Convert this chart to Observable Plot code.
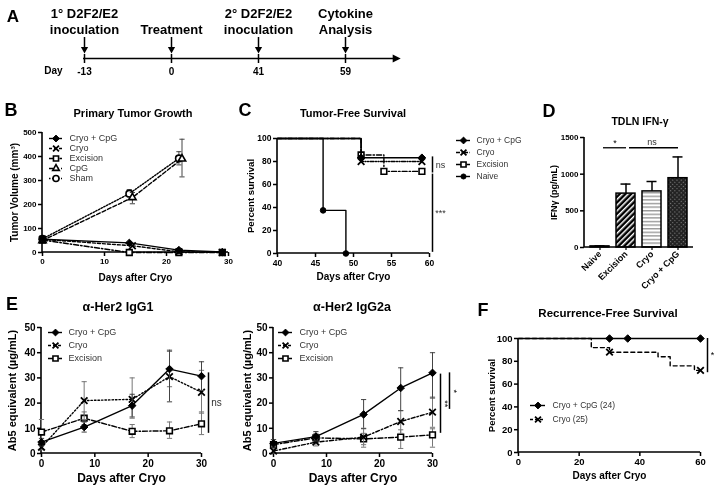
<!DOCTYPE html>
<html><head><meta charset="utf-8">
<script src="https://cdn.jsdelivr.net/npm/d3@7"></script>
<script src="https://cdn.jsdelivr.net/npm/@observablehq/plot@0.6"></script>
<style>
body{margin:0;background:#fff;}
#fig{position:relative;width:718px;height:487px;overflow:hidden;background:#fff;font-family:"Liberation Sans",Arial,Helvetica,sans-serif;filter:grayscale(1);}
.lbl{position:absolute;font-weight:bold;white-space:nowrap;color:#000;transform:translate(-50%,-50%);line-height:1;}
</style></head><body>
<svg width="0" height="0" style="position:absolute">
<defs>
<pattern id="patDiag" patternUnits="userSpaceOnUse" width="4" height="4" patternTransform="rotate(45)">
<rect width="4" height="4" fill="#000"/><rect width="1.5" height="4" fill="#fff"/>
</pattern>
<pattern id="patHoriz" patternUnits="userSpaceOnUse" width="4" height="3.6">
<rect width="4" height="3.6" fill="#fff"/><rect width="4" height="1.4" fill="#9a9a9a"/>
</pattern>
<pattern id="patCross" patternUnits="userSpaceOnUse" width="3" height="3" patternTransform="rotate(45)">
<rect width="3" height="3" fill="#222"/><rect width="1.1" height="1.1" fill="#808080"/>
</pattern>
</defs></svg>
<div id="fig"></div>
<script>
// ---------- DATA ----------
// Panel A: timeline
const timelineDays = [-13, 0, 41, 59];
const timelineEvents = ["1° D2F2/E2\ninoculation", "Treatment", "2° D2F2/E2\ninoculation", "Cytokine\nAnalysis"];

// Panel B: primary tumor growth (mm^3)
const bSeries = ["Cryo + CpG", "Cryo", "Excision", "CpG", "Sham"];
const bCryoCpGDays = [0, 14, 22, 29];
const bCryoCpGVol = [55, 40, 10, 2];
const bCryoDays = [0, 14.5, 22, 29];
const bCryoVol = [55, 28, 3, 0];
const bExcisionDays = [0, 14, 22, 29];
const bExcisionVol = [52, 0, 0, 0];
const bCpGDays = [0, 14.5, 22.5];
const bCpGVol = [50, 229, 390];
const bCpGLo = [45, 203, 315];
const bCpGHi = [55, 250, 472];
const bShamDays = [0, 14, 22];
const bShamVol = [57, 245, 392];
const bShamLo = [52, 232, 365];
const bShamHi = [62, 262, 420];

// Panel C: tumor-free survival (%)
const cSeries = ["Cryo + CpG", "Cryo", "Excision", "Naive"];
const cCryoCpGDays = [40, 51, 59];
const cCryoCpGSurv = [100, 83.3, 83.3];
const cCryoDays = [40, 51, 59];
const cCryoSurv = [100, 80, 80];
const cExcisionDays = [40, 51, 54, 59];
const cExcisionSurv = [100, 85.7, 71.4, 71.4];
const cNaiveDays = [40, 46, 49];
const cNaiveSurv = [100, 37.5, 0];
const cSig = [{x: 60, y1: 84, y2: 70, label: "ns"}, {x: 60, y1: 69, y2: 1, label: "***"}];

// Panel D: TDLN IFN-gamma (pg/mL)
const dGroups = ["Naive", "Excision", "Cryo", "Cryo + CpG"];
const dMeans = [15, 735, 765, 945];
const dErrHi = [22, 865, 900, 1235];
const dSig = [{from: "Naive", to: "Excision", y: 1360, label: "*"}, {from: "Excision", to: "Cryo + CpG", y: 1360, label: "ns"}];

// Panel E: anti-Her2 antibodies (ug/mL)
const eSeries = ["Cryo + CpG", "Cryo", "Excision"];
const eDays = [0, 8, 17, 24, 30];
const e1CryoCpG = [4.5, 10.5, 19, 33.5, 30.7];
const e1CryoCpGLo = [3, 8.5, 14.5, 20.5, 25];
const e1CryoCpGHi = [6, 12.5, 23.5, 41, 36.4];
const e1Cryo = [2.5, 21, 21.5, 30.5, 24.3];
const e1CryoLo = [1.5, 13.5, 14, 26.5, 16];
const e1CryoHi = [3.5, 28.5, 30, 40.5, 33];
const e1Excision = [8.5, 14, 8.8, 9, 11.8];
const e1ExcisionLo = [3.5, 11.5, 6.3, 6, 7.5];
const e1ExcisionHi = [13.5, 16.5, 11.5, 12.5, 16.5];
const e1Sig = [{x: 30, y1: 32, y2: 8, label: "ns"}];
const e2CryoCpG = [4, 6.7, 15.5, 26, 32];
const e2CryoCpGLo = [2.5, 5, 10, 17, 22];
const e2CryoCpGHi = [5.5, 8.7, 21.4, 34, 40];
const e2Cryo = [1, 4.5, 6.5, 12.7, 16.4];
const e2CryoLo = [0.2, 3, 2.5, 8, 10.4];
const e2CryoHi = [1.8, 6, 9.8, 17, 22.4];
const e2Excision = [3.5, 6.2, 5.8, 6.5, 7.4];
const e2ExcisionLo = [2, 4.5, 3.5, 2, 2.5];
const e2ExcisionHi = [5.5, 8, 8, 9.4, 9.8];
const e2Sig = [{x: 30, y1: 31.5, y2: 8, label: "**"}, {x: 30, y1: 32, y2: 17.5, label: "*"}];

// Panel F: recurrence-free survival (%)
const fLabels = ["Cryo + CpG (24)", "Cryo (25)"];
const fCryoCpGDays = [0, 30, 36, 60];
const fCryoCpGSurv = [100, 100, 100, 100];
const fCryoCpGMarks = [30, 36, 60];
const fCryoDays = [0, 24, 30, 46, 50, 58, 60];
const fCryoSurv = [100, 92, 88, 84, 76, 72, 72];
const fCryoMarks = [30, 60];
const fSig = [{x: 60, y1: 100, y2: 70, label: "*"}];

// ---------- STYLE ----------
const FONT = '"Liberation Sans", Arial, Helvetica, sans-serif';
const fig = document.getElementById("fig");
const cap = {draw(ctx, size) { const w = Math.sqrt(size / Math.PI); ctx.moveTo(-w, 0); ctx.lineTo(w, 0); }};
const downTri = {draw(ctx, size) { const s = Math.sqrt(size / Math.PI); ctx.moveTo(-s, -s * 0.7); ctx.lineTo(s, -s * 0.7); ctx.lineTo(0, s * 1.1); ctx.closePath(); }};
const rightTri = {draw(ctx, size) { const s = Math.sqrt(size / Math.PI); ctx.moveTo(-s * 0.7, -s); ctx.lineTo(-s * 0.7, s); ctx.lineTo(s * 1.3, 0); ctx.closePath(); }};
const STY = {
  "Cryo + CpG": {symbol: "diamond2", r: 3.4, fill: "#000", sw: 1, dash: null},
  "Cryo": {symbol: "times", r: 3.1, fill: "none", sw: 1.8, dash: "3,2"},
  "Excision": {symbol: "square", r: 3.2, fill: "#fff", sw: 1.6, dash: "5,2,1.5,2"},
  "CpG": {symbol: "triangle2", r: 3.5, fill: "#fff", sw: 1.6, dash: "4,2"},
  "Sham": {symbol: "circle", r: 3.3, fill: "#fff", sw: 1.6, dash: "1.5,1.5"},
  "Naive": {symbol: "circle", r: 2.8, fill: "#000", sw: 1, dash: null}
};
const baseStyle = (fs) => ({fontFamily: FONT, fontSize: fs + "px", fontWeight: "bold", color: "#000", background: "transparent", overflow: "visible"});

function place(svg, left, top) {
  svg.style.position = "absolute"; svg.style.left = left + "px"; svg.style.top = top + "px";
  svg.style.maxWidth = "none";
  fig.appendChild(svg);
}
function htmlText(str, cx, cy, size, weight = "bold") {
  const d = document.createElement("div");
  d.className = "lbl"; d.textContent = str;
  d.style.left = cx + "px"; d.style.top = cy + "px"; d.style.fontSize = size + "px"; d.style.fontWeight = weight;
  fig.appendChild(d);
}
function axisLines(index, scales, values, dims) {
  const {width, height, marginLeft, marginRight, marginTop, marginBottom} = dims;
  const p = document.createElementNS("http://www.w3.org/2000/svg", "path");
  p.setAttribute("d", `M${marginLeft},${marginTop}V${height - marginBottom}H${width - marginRight}`);
  p.setAttribute("fill", "none"); p.setAttribute("stroke", "#000"); p.setAttribute("stroke-width", "1.6");
  return p;
}
const axY = (ticks, fs, o = {}) => Plot.axisY({ticks, tickSize: 4, tickPadding: 2, strokeWidth: 1.5, fontSize: fs, tickFormat: d => String(d), label: null, ...o});
const axX = (ticks, fs, o = {}) => Plot.axisX({ticks, tickSize: 4, tickPadding: 2, strokeWidth: 1.5, fontSize: fs, tickFormat: d => String(d), label: null, ...o});
const xLabel = (t, dy, fs) => Plot.text([t], {text: d => d, frameAnchor: "bottom", textAnchor: "middle", dy, fontSize: fs, lineAnchor: "middle", fill: "black"});
const yLabel = (t, dx, fs) => Plot.text([t], {text: d => d, frameAnchor: "left", textAnchor: "middle", dx, rotate: -90, fontSize: fs, lineAnchor: "middle", fill: "black"});
const sigText = (data, dx, fs, o = {}) => Plot.text(data, {x: "x", y: d => (d.y1 + d.y2) / 2, text: d => d.label, dx, fontSize: fs, fontWeight: "normal", fill: "black", ...o});

function seriesMarks(days, vals, o) {
  const rows = days.map((x, i) => ({x, y: vals[i], lo: o.lo ? o.lo[i] : null, hi: o.hi ? o.hi[i] : null}));
  const st = STY[o.name];
  const m = [];
  if (o.lo) {
    const ec = o.errColor || "#555";
    m.push(Plot.ruleX(rows, {x: "x", y1: "lo", y2: "hi", stroke: ec, strokeWidth: 1}));
    m.push(Plot.dot(rows, {x: "x", y: "lo", symbol: cap, r: 2.6, stroke: ec, fill: "none", strokeWidth: 1}));
    m.push(Plot.dot(rows, {x: "x", y: "hi", symbol: cap, r: 2.6, stroke: ec, fill: "none", strokeWidth: 1}));
  }
  m.push(Plot.line(rows, {x: "x", y: "y", curve: o.curve || "linear", stroke: "#000", strokeWidth: 1.4, strokeDasharray: o.dash !== undefined ? o.dash : st.dash}));
  const mk = o.markDays ? rows.filter(r => o.markDays.includes(r.x)) : rows;
  m.push(Plot.dot(mk, {x: "x", y: "y", symbol: st.symbol, r: st.r, fill: st.fill, stroke: "#000", strokeWidth: st.sw}));
  return m;
}
function legendPlot(keys, labels, o) {
  const n = keys.length;
  const marks = [];
  keys.forEach((k, i) => {
    const st = STY[k];
    const dash = o.dash && o.dash[k] !== undefined ? o.dash[k] : st.dash;
    marks.push(Plot.ruleY([labels[i]], {y: d => d, x1: 0, x2: 1, stroke: "#000", strokeWidth: 1.4, strokeDasharray: dash}));
    marks.push(Plot.dot([labels[i]], {x: 0.5, y: d => d, symbol: st.symbol, r: st.r * 0.9, fill: st.fill, stroke: "#000", strokeWidth: st.sw}));
  });
  marks.push(Plot.text(labels, {x: 1, y: d => d, text: d => d, textAnchor: "start", dx: o.gap, fontSize: o.fs, fontWeight: "normal", fill: "#333"}));
  const svg = Plot.plot({
    width: o.width, height: n * o.rowH, margin: 0,
    x: {domain: [0, 1], range: [0, o.lineW], axis: null},
    y: {type: "point", domain: labels, range: [o.rowH / 2, o.rowH * (n - 0.5)], padding: 0, axis: null},
    style: baseStyle(o.fs), marks
  });
  place(svg, o.left, o.top);
}
function panel(p) {
  const svg = Plot.plot({
    width: p.width, height: p.height,
    marginLeft: p.ml, marginRight: p.mr, marginTop: p.mt, marginBottom: p.mb,
    x: p.x, y: p.y, color: p.color,
    style: baseStyle(p.fs), marks: p.marks
  });
  place(svg, p.left, p.top);
}

// ---------- PANEL A ----------
const aRows = timelineDays.map((day, i) => ({day, label: timelineEvents[i]}));
panel({
  left: 0, top: 0, width: 420, height: 90, ml: 83, mr: 25, mt: 37, mb: 32, fs: 10,
  x: {type: "point", domain: timelineDays, range: [83, 346], padding: 0},
  y: {domain: [0, 1], axis: null},
  marks: [
    Plot.ruleY([0], {strokeWidth: 1.5, stroke: "#000"}),
    Plot.dot([0], {y: d => d, frameAnchor: "right", symbol: rightTri, r: 4, fill: "#000", stroke: "none"}),
    Plot.ruleX(aRows, {x: "day", insetBottom: 11, strokeWidth: 1.5, stroke: "#000"}),
    Plot.dot(aRows, {x: "day", frameAnchor: "bottom", dy: -9, symbol: downTri, r: 3.6, fill: "#000", stroke: "none"}),
    Plot.ruleX(aRows, {x: "day", insetTop: 17, strokeWidth: 1.5, stroke: "#000"}),
    Plot.axisX({ticks: timelineDays, tickSize: 5, tickPadding: 4, strokeWidth: 1.5, fontSize: 10, tickFormat: d => String(d), label: null}),
    Plot.text(aRows, {x: "day", text: "label", frameAnchor: "top", lineAnchor: "bottom", dy: -4, fontSize: 13, lineHeight: 1.22, fill: "black"}),
    Plot.text(["Day"], {text: d => d, frameAnchor: "bottom-left", textAnchor: "middle", dx: -30, dy: 15, fontSize: 10, fill: "black"})
  ]
});
htmlText("A", 13, 16, 17);

// ---------- PANEL B ----------
panel({
  left: 0, top: 120, width: 240, height: 170, ml: 42, mr: 12, mt: 12, mb: 38, fs: 8,
  x: {domain: [0, 30]}, y: {domain: [0, 500]},
  marks: [
    axisLines,
    axY([0, 100, 200, 300, 400, 500], 8), axX([0, 10, 20, 30], 8),
    yLabel("Tumor Volume (mm³)", -28, 10), xLabel("Days after Cryo", 25, 10),
    ...seriesMarks(bShamDays, bShamVol, {name: "Sham", lo: bShamLo, hi: bShamHi, errColor: "#444"}),
    ...seriesMarks(bCpGDays, bCpGVol, {name: "CpG", lo: bCpGLo, hi: bCpGHi, errColor: "#444"}),
    ...seriesMarks(bExcisionDays, bExcisionVol, {name: "Excision"}),
    ...seriesMarks(bCryoDays, bCryoVol, {name: "Cryo"}),
    ...seriesMarks(bCryoCpGDays, bCryoCpGVol, {name: "Cryo + CpG"})
  ]
});
legendPlot(bSeries, bSeries, {left: 49, top: 132, rowH: 10.5, lineW: 13, gap: 7, fs: 9, width: 110});
htmlText("B", 11, 110, 18);
htmlText("Primary Tumor Growth", 133, 113, 11);

// ---------- PANEL C ----------
panel({
  left: 230, top: 125, width: 230, height: 165, ml: 47, mr: 31, mt: 13, mb: 37, fs: 8.5,
  x: {domain: [40, 60]}, y: {domain: [0, 100]},
  marks: [
    axisLines,
    axY([0, 20, 40, 60, 80, 100], 8.5), axX([40, 45, 50, 55, 60], 8.5),
    yLabel("Percent survival", -27, 9.6), xLabel("Days after Cryo", 23, 10),
    ...seriesMarks(cNaiveDays, cNaiveSurv, {name: "Naive", curve: "step-after", markDays: cNaiveDays.slice(1)}),
    ...seriesMarks(cExcisionDays, cExcisionSurv, {name: "Excision", curve: "step-after", markDays: cExcisionDays.slice(1)}),
    ...seriesMarks(cCryoDays, cCryoSurv, {name: "Cryo", curve: "step-after", dash: "4,1.5,1,1.5,1,1.5", markDays: cCryoDays.slice(1)}),
    ...seriesMarks(cCryoCpGDays, cCryoCpGSurv, {name: "Cryo + CpG", curve: "step-after", markDays: cCryoCpGDays.slice(1)}),
    Plot.ruleX(cSig, {x: "x", y1: "y1", y2: "y2", dx: 3, strokeWidth: 1.5, stroke: "#000"}),
    sigText(cSig, 11, 9, {fill: "#333"})
  ]
});
legendPlot(cSeries, cSeries, {left: 456, top: 133, rowH: 12.3, lineW: 14, gap: 6, fs: 8.5, width: 100, dash: {"Cryo": "4,1.5,1,1.5"}});
htmlText("C", 245, 110, 18);
htmlText("Tumor-Free Survival", 353, 113, 11);

// ---------- PANEL D ----------
const dRows = dGroups.map((name, i) => ({name, value: dMeans[i], err: dErrHi[i]}));
const dFill = {"Naive": "#000", "Excision": "url(#patDiag)", "Cryo": "url(#patHoriz)", "Cryo + CpG": "url(#patCross)"};
panel({
  left: 520, top: 120, width: 198, height: 190, ml: 64, mr: 25, mt: 17, mb: 63, fs: 8,
  x: {type: "band", domain: dGroups, paddingInner: 0.26, paddingOuter: 0.15},
  y: {domain: [0, 1500]},
  color: {type: "identity"},
  marks: [
    Plot.ruleX(dRows, {x: "name", y1: "value", y2: "err", strokeWidth: 1.5, stroke: "#000"}),
    Plot.tickY(dRows, {x: "name", y: "err", insetLeft: 4.5, insetRight: 4.5, strokeWidth: 1.5, stroke: "#000"}),
    Plot.barY(dRows, {x: "name", y: "value", fill: d => dFill[d.name], stroke: "#000", strokeWidth: 1.5}),
    axisLines,
    axY([0, 500, 1000, 1500], 8),
    Plot.axisX({tickRotate: -45, tickSize: 3, tickPadding: 2, strokeWidth: 1.2, fontSize: 9, label: null}),
    yLabel("IFNγ (pg/mL)", -30, 9),
    Plot.ruleY(dSig, {y: "y", x1: "from", x2: "to", insetLeft: 13, insetRight: 9, strokeWidth: 1.3, stroke: "#000"}),
    Plot.text([dSig[0]], {x: "from", y: "y", text: d => d.label, dx: 15, dy: -5, fontSize: 9, fontWeight: "normal", fill: "black"}),
    Plot.text([dSig[1]], {x: d => "Cryo", y: "y", text: d => d.label, dy: -6, fontSize: 9, fontWeight: "normal", fill: "#333"})
  ]
});
htmlText("D", 549, 111, 18);
htmlText("TDLN IFN-γ", 640, 121, 10.5);

// ---------- PANEL E (IgG1) ----------
panel({
  left: 0, top: 315, width: 225, height: 172, ml: 41, mr: 24, mt: 12, mb: 34, fs: 10,
  x: {domain: [0, 30]}, y: {domain: [0, 50]},
  marks: [
    axisLines,
    axY([0, 10, 20, 30, 40, 50], 10), axX([0, 10, 20, 30], 10),
    yLabel("Ab5 equivalent (µg/mL)", -29, 11), xLabel("Days after Cryo", 25, 12),
    ...seriesMarks(eDays, e1Excision, {name: "Excision", lo: e1ExcisionLo, hi: e1ExcisionHi, errColor: "#777"}),
    ...seriesMarks(eDays, e1Cryo, {name: "Cryo", lo: e1CryoLo, hi: e1CryoHi, errColor: "#777", dash: "1.5,2"}),
    ...seriesMarks(eDays, e1CryoCpG, {name: "Cryo + CpG", lo: e1CryoCpGLo, hi: e1CryoCpGHi, errColor: "#444"}),
    Plot.ruleX(e1Sig, {x: "x", y1: "y1", y2: "y2", dx: 7, strokeWidth: 1.5, stroke: "#000"}),
    sigText(e1Sig, 15, 10, {fill: "#333"})
  ]
});
legendPlot(eSeries, eSeries, {left: 48, top: 324.5, rowH: 13, lineW: 14, gap: 6, fs: 9, width: 100, dash: {"Cryo": "3,2"}});
htmlText("E", 12, 304, 18);
htmlText("α-Her2 IgG1", 118, 307, 12.5);

// ---------- PANEL E (IgG2a) ----------
panel({
  left: 230, top: 315, width: 240, height: 172, ml: 43, mr: 38, mt: 12, mb: 34, fs: 10,
  x: {domain: [0, 30]}, y: {domain: [0, 50]},
  marks: [
    axisLines,
    axY([0, 10, 20, 30, 40, 50], 10), axX([0, 10, 20, 30], 10),
    yLabel("Ab5 equivalent (µg/mL)", -26, 11), xLabel("Days after Cryo", 25, 12),
    ...seriesMarks(eDays, e2Excision, {name: "Excision", lo: e2ExcisionLo, hi: e2ExcisionHi, errColor: "#777"}),
    ...seriesMarks(eDays, e2Cryo, {name: "Cryo", lo: e2CryoLo, hi: e2CryoHi, errColor: "#777", dash: "4,2,1.5,2"}),
    ...seriesMarks(eDays, e2CryoCpG, {name: "Cryo + CpG", lo: e2CryoCpGLo, hi: e2CryoCpGHi, errColor: "#444"}),
    Plot.ruleX([e2Sig[0]], {x: "x", y1: "y1", y2: "y2", dx: 8, strokeWidth: 1.5, stroke: "#000"}),
    Plot.ruleX([e2Sig[1]], {x: "x", y1: "y1", y2: "y2", dx: 17, strokeWidth: 1.5, stroke: "#000"}),
    sigText([e2Sig[0]], 12, 9, {rotate: 90}),
    sigText([e2Sig[1]], 21, 9, {rotate: 90})
  ]
});
legendPlot(eSeries, eSeries, {left: 278, top: 324.5, rowH: 13, lineW: 14, gap: 7, fs: 9, width: 100, dash: {"Cryo": "3,2"}});
htmlText("α-Her2 IgG2a", 352, 307, 12.5);

// ---------- PANEL F ----------
panel({
  left: 470, top: 320, width: 248, height: 167, ml: 48, mr: 18, mt: 18, mb: 35, fs: 9.5,
  x: {domain: [0, 60]}, y: {domain: [0, 100]},
  marks: [
    axisLines,
    axY([0, 20, 40, 60, 80, 100], 9.5), axX([0, 20, 40, 60], 9.5),
    yLabel("Percent survival", -27, 9.5), xLabel("Days after Cryo", 23, 10),
    ...seriesMarks(fCryoDays, fCryoSurv, {name: "Cryo", curve: "step-after", dash: "4,3", markDays: fCryoMarks}),
    ...seriesMarks(fCryoCpGDays, fCryoCpGSurv, {name: "Cryo + CpG", curve: "step-after", markDays: fCryoCpGMarks}),
    Plot.ruleX(fSig, {x: "x", y1: "y1", y2: "y2", dx: 7, strokeWidth: 1.5, stroke: "#000"}),
    sigText(fSig, 12, 9)
  ]
});
legendPlot(["Cryo + CpG", "Cryo"], fLabels, {left: 530, top: 398, rowH: 14, lineW: 15, gap: 7, fs: 8.5, width: 120, dash: {"Cryo": "3,2"}});
htmlText("F", 483, 310, 18);
htmlText("Recurrence-Free Survival", 608, 314, 11.5);
</script>
</body></html>
